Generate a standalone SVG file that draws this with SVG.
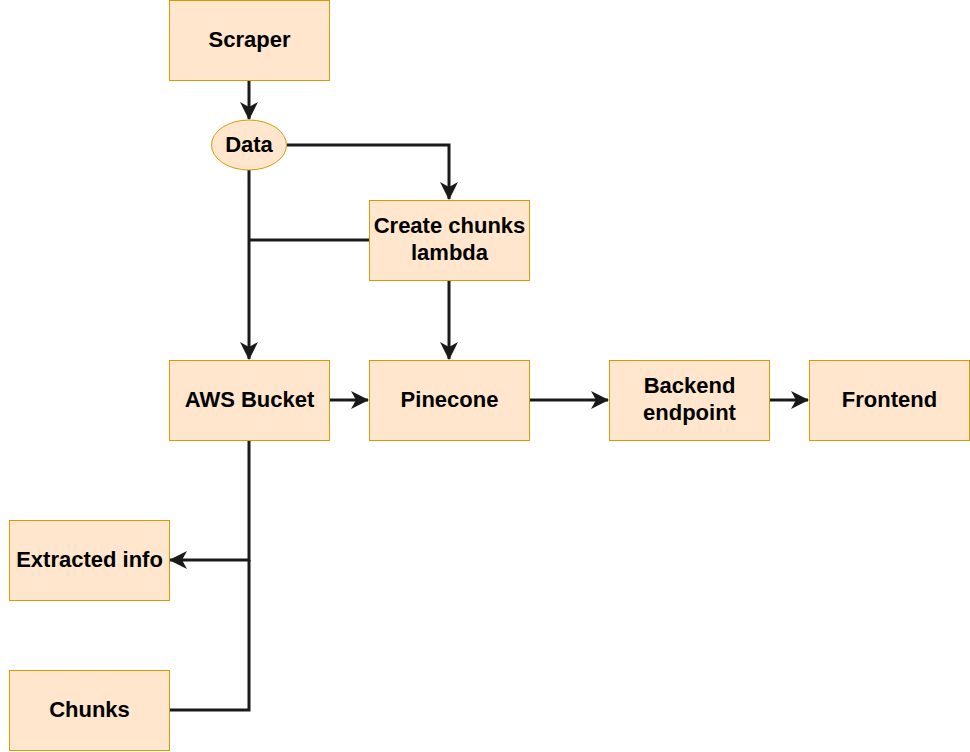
<svg xmlns="http://www.w3.org/2000/svg" width="970" height="752" viewBox="0 0 970 752">
<style>
.n{fill:#ffe6cc;stroke:#d79b00;stroke-width:1}
.t{font-family:"Liberation Sans",Arial,sans-serif;font-weight:bold;font-size:22px;fill:#000;text-anchor:middle}
.c{fill:none;stroke:#1a1a1a;stroke-width:3}
</style>
<defs>
<marker id="a" markerUnits="userSpaceOnUse" viewBox="0 0 18 18" refX="17" refY="9" markerWidth="18" markerHeight="18" orient="auto">
<path d="M0,0 L18,9 L0,18 L5,9 Z" fill="#1a1a1a"/>
</marker>
</defs>
<rect width="970" height="752" fill="#fff"/>
<g id="connectors">
<path class="c" d="M249,80 V119" marker-end="url(#a)"/>
<path class="c" d="M287,145 H449 V199" marker-end="url(#a)"/>
<path class="c" d="M249,170 V359" marker-end="url(#a)"/>
<path class="c" d="M369,240 H249"/>
<path class="c" d="M449,280 V359" marker-end="url(#a)"/>
<path class="c" d="M329,400 H368" marker-end="url(#a)"/>
<path class="c" d="M529,400 H608" marker-end="url(#a)"/>
<path class="c" d="M769,400 H808" marker-end="url(#a)"/>
<path class="c" d="M249,440 V560 H170" marker-end="url(#a)"/>
<path class="c" d="M169,710 H249 V560"/>
</g>
<g id="scraper"><rect class="n" x="169.5" y="0.5" width="160" height="80"/><text class="t" x="249.5" y="47">Scraper</text></g>
<g id="data"><ellipse class="n" cx="249" cy="145" rx="37.5" ry="25"/><text class="t" x="249" y="152">Data</text></g>
<g id="create-chunks"><rect class="n" x="369.5" y="200.5" width="160" height="80"/><text class="t" x="449.5" y="233">Create chunks</text><text class="t" x="449.5" y="260">lambda</text></g>
<g id="aws-bucket"><rect class="n" x="169.5" y="360.5" width="160" height="80"/><text class="t" x="249.5" y="407">AWS Bucket</text></g>
<g id="pinecone"><rect class="n" x="369.5" y="360.5" width="160" height="80"/><text class="t" x="449.5" y="407">Pinecone</text></g>
<g id="backend"><rect class="n" x="609.5" y="360.5" width="160" height="80"/><text class="t" x="689.5" y="393">Backend</text><text class="t" x="689.5" y="420">endpoint</text></g>
<g id="frontend"><rect class="n" x="809.5" y="360.5" width="160" height="80"/><text class="t" x="889.5" y="407">Frontend</text></g>
<g id="extracted-info"><rect class="n" x="9.5" y="520.5" width="160" height="80"/><text class="t" x="89.5" y="567">Extracted info</text></g>
<g id="chunks"><rect class="n" x="9.5" y="670.5" width="160" height="80"/><text class="t" x="89.5" y="717">Chunks</text></g>
</svg>
